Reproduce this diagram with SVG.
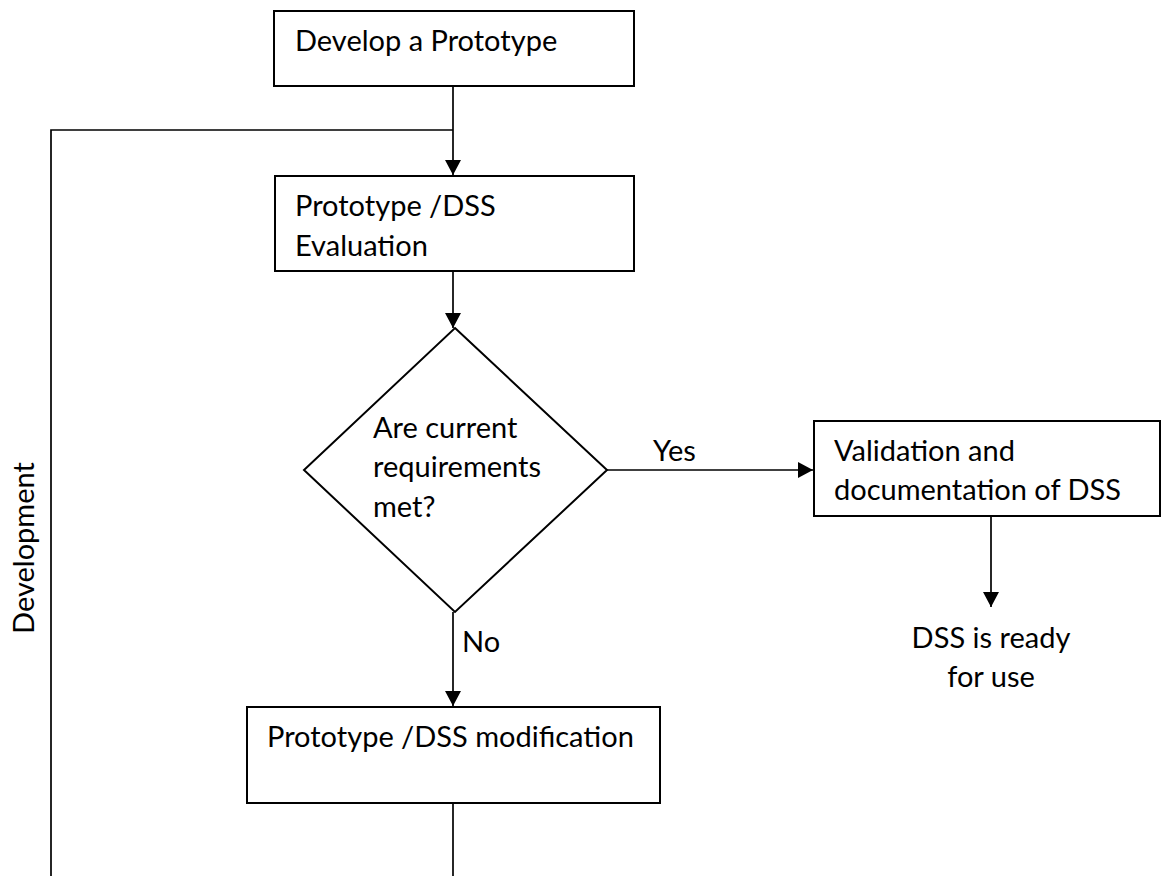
<svg xmlns="http://www.w3.org/2000/svg" width="1161" height="876" viewBox="0 0 1161 876">
  <style>
    .box { fill: #ffffff; stroke: #000000; stroke-width: 2; }
    .wire { fill: none; stroke: #000000; stroke-width: 1.7; }
    .lbl { font-family: Lato, "Liberation Sans", sans-serif; font-size: 29px; fill: #000000; }
  </style>
  <defs>
    <marker id="arrow" markerUnits="userSpaceOnUse" markerWidth="17" markerHeight="17" refX="15" refY="8" orient="auto">
      <path d="M0,0 L15,8 L0,16 z" fill="#000000"/>
    </marker>
  </defs>
  <rect width="1161" height="876" fill="#ffffff"/>

  <!-- connectors -->
  <g id="connectors">
    <path class="wire" d="M453,86 L453,175" marker-end="url(#arrow)"/>
    <path class="wire" d="M453,876 L453,803"/>
    <path class="wire" d="M51,876 L51,130 L453,130"/>
    <path class="wire" d="M453,271 L453,328" marker-end="url(#arrow)"/>
    <path class="wire" d="M607,470 L813,470" marker-end="url(#arrow)"/>
    <path class="wire" d="M453,612 L453,706" marker-end="url(#arrow)"/>
    <path class="wire" d="M991,516 L991,607" marker-end="url(#arrow)"/>
    <text class="lbl" x="653" y="461">Yes</text>
    <text class="lbl" x="462" y="652">No</text>
    <text class="lbl" transform="translate(34,548) rotate(-90)" text-anchor="middle">Development</text>
  </g>

  <g id="develop">
    <rect class="box" x="274" y="11" width="360" height="75"/>
    <text class="lbl" x="295" y="51">Develop a Prototype</text>
  </g>

  <g id="evaluation">
    <rect class="box" x="275" y="176" width="359" height="95"/>
    <text class="lbl" x="295" y="216">Prototype /DSS</text>
    <text class="lbl" x="295" y="256">Evaluation</text>
  </g>

  <g id="decision">
    <polygon class="box" points="455,328 607,470 455,612 304,470"/>
    <text class="lbl" x="373" y="438">Are current</text>
    <text class="lbl" x="373" y="477">requirements</text>
    <text class="lbl" x="373" y="517">met?</text>
  </g>

  <g id="validation">
    <rect class="box" x="814" y="421" width="346" height="95"/>
    <text class="lbl" x="834" y="461">Validation and</text>
    <text class="lbl" x="834" y="500">documentation of DSS</text>
  </g>

  <g id="ready">
    <text class="lbl" x="991" y="648" text-anchor="middle">DSS is ready</text>
    <text class="lbl" x="991" y="687" text-anchor="middle">for use</text>
  </g>

  <g id="modification">
    <rect class="box" x="247" y="707" width="413" height="96"/>
    <text class="lbl" x="267" y="747">Prototype /DSS modification</text>
  </g>
</svg>
